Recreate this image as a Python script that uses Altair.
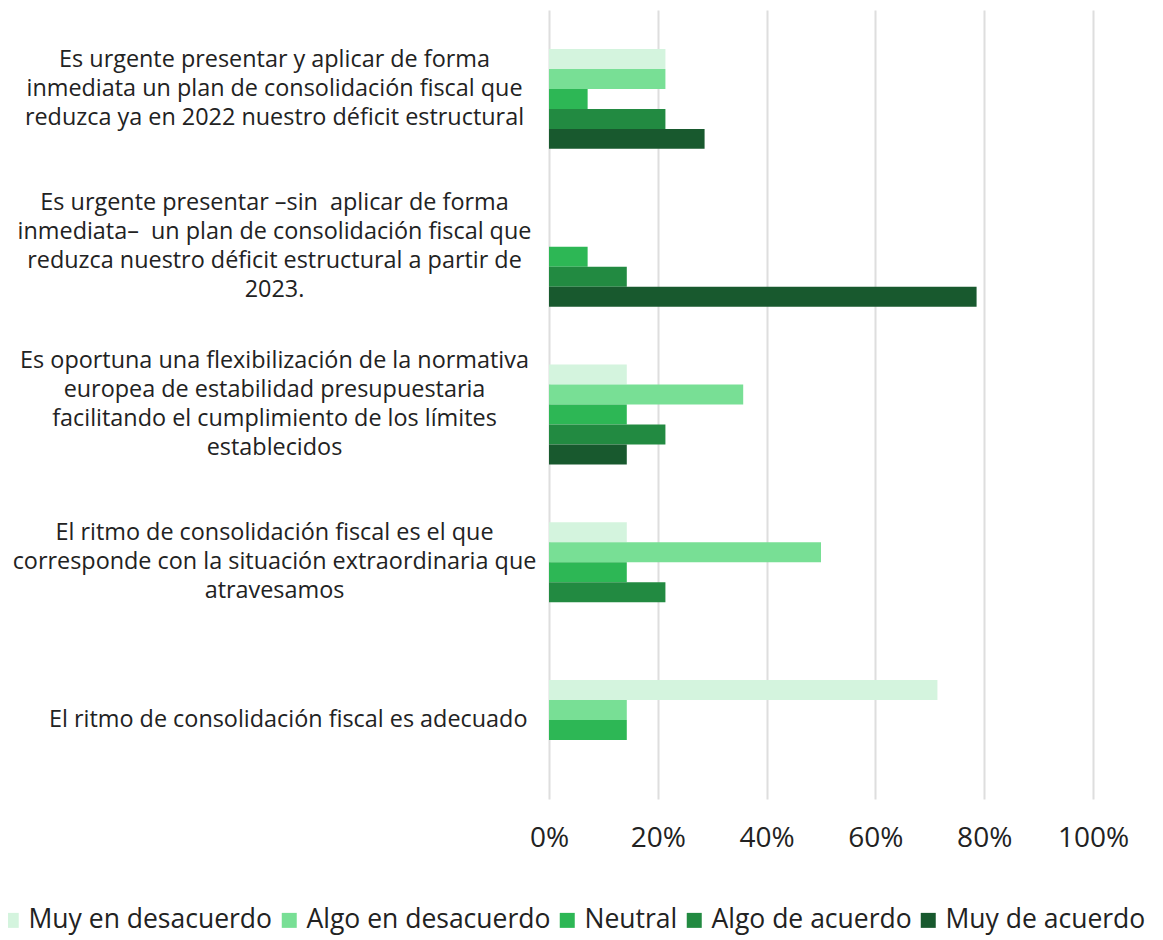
import altair as alt
import pandas as pd

categorias = [
    ["Es urgente presentar y aplicar de forma",
     "inmediata un plan de consolidación fiscal que",
     "reduzca ya en 2022 nuestro déficit estructural"],
    ["Es urgente presentar –sin \u00a0aplicar de forma",
     "inmediata– \u00a0un plan de consolidación fiscal que",
     "reduzca nuestro déficit estructural a partir de",
     "2023."],
    ["Es oportuna una flexibilización de la normativa",
     "europea de estabilidad presupuestaria",
     "facilitando el cumplimiento de los límites",
     "establecidos"],
    ["El ritmo de consolidación fiscal es el que",
     "corresponde con la situación extraordinaria que",
     "atravesamos"],
    ["El ritmo de consolidación fiscal es adecuado"],
]

series = ["Muy en desacuerdo", "Algo en desacuerdo", "Neutral",
          "Algo de acuerdo", "Muy de acuerdo"]

muy_en_desacuerdo = [21.4, 0.0, 14.3, 14.3, 71.4]
algo_en_desacuerdo = [21.4, 0.0, 35.7, 50.0, 14.3]
neutral = [7.1, 7.1, 14.3, 14.3, 14.3]
algo_de_acuerdo = [21.4, 14.3, 21.4, 21.4, 0.0]
muy_de_acuerdo = [28.6, 78.6, 14.3, 0.0, 0.0]

colores = ["#d4f4de", "#78df95", "#2db755", "#228a41", "#18592e"]

valores = [muy_en_desacuerdo, algo_en_desacuerdo, neutral,
           algo_de_acuerdo, muy_de_acuerdo]

claves = ["|".join(c) for c in categorias]

filas = []
for s, vals in zip(series, valores):
    for c, v in zip(claves, vals):
        if v > 0:
            filas.append({"categoria": c, "serie": s, "valor": v / 100.0})
df = pd.DataFrame(filas)

FONT = "Open Sans"
TXT = "#222222"
LH = 29
NL = "length(split(datum.label, '|'))"

chart = alt.Chart(df).mark_bar().encode(
    x=alt.X("valor:Q",
            scale=alt.Scale(domain=[0, 1], nice=False),
            axis=alt.Axis(format=".0%", values=[0, 0.2, 0.4, 0.6, 0.8, 1.0],
                          grid=True, domain=False, ticks=False,
                          labelFlush=False,
                          labelFontSize=28, labelPadding=25, labelColor=TXT,
                          labelFont=FONT, gridColor="#dedede", gridWidth=2,
                          title=None)),
    y=alt.Y("categoria:N", sort=claves,
            scale=alt.Scale(paddingInner=0.24, paddingOuter=0.12),
            axis=alt.Axis(title=None, domain=False, ticks=False, grid=False,
                          labelExpr="split(datum.label, '|')",
                          labelAlign={"condition": {"test": NL + " == 1", "value": "right"},
                                      "value": "center"},
                          labelPadding={"condition": {"test": NL + " == 1", "value": 22},
                                        "value": 275},
                          labelOffset={"condition": [
                              {"test": NL + " == 4", "value": -1.5 * LH},
                              {"test": NL + " == 3", "value": -1.0 * LH},
                              {"test": NL + " == 2", "value": -0.5 * LH}],
                              "value": 0},
                          labelBaseline="middle",
                          labelFontSize=23.4,
                          labelLineHeight=LH, labelLimit=700,
                          labelColor=TXT, labelFont=FONT)),
    yOffset=alt.YOffset("serie:N",
                        scale=alt.Scale(domain=[" "] + series,
                                        paddingInner=0, paddingOuter=0)),
    color=alt.Color("serie:N",
                    scale=alt.Scale(domain=series, range=colores),
                    legend=alt.Legend(orient="none", legendX=-551, legendY=897,
                                      direction="horizontal", columns=5,
                                      title=None, symbolType="square",
                                      symbolSize=225, symbolStrokeWidth=0,
                                      labelFontSize=26.5, labelLimit=500,
                                      labelFont=FONT, labelColor=TXT,
                                      columnPadding=3, labelOffset=4,
                                      padding=0)),
).properties(
    width=544,
    height=789,
    autosize=alt.AutoSizeParams(type="none"),
    padding={"left": 541, "top": 2, "right": 62, "bottom": 136},
).configure_view(stroke=None)

chart.save("out.html", embed_options={"renderer": "svg", "actions": False})
